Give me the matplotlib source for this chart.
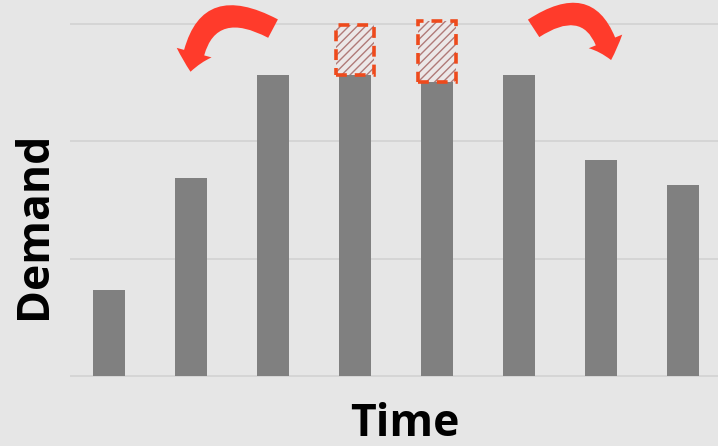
import matplotlib
matplotlib.use("Agg")
import matplotlib.pyplot as plt
from matplotlib.patches import FancyArrowPatch

# bar heights (grid step = 1 unit)
periods = list(range(8))
demand = [0.73, 1.69, 2.57, 2.57, 2.51, 2.57, 1.84, 1.63]

# peak demand that is shaved off and moved to neighbours
shaved_idx = [3, 4]
shaved_height = [0.42, 0.52]
shaved_width = [0.46, 0.47]

bg = "#e6e6e6"
bar_color = "#808080"
red = "#ff3b2b"

fig = plt.figure(figsize=(7.18, 4.46), dpi=100, facecolor=bg)
W, H = 718, 446
ax = fig.add_axes([70 / W, (H - 390) / H, (718 - 70) / W, 390 / H])
ax.set_facecolor(bg)

ax.bar(periods, demand, width=0.4, color=bar_color, zorder=2)

# hatched blocks on top of the peak bars
tops = [demand[i] for i in shaved_idx]
ax.bar(shaved_idx, shaved_height, bottom=tops, width=shaved_width,
       color="#ece8e8", edgecolor="#b07a78", hatch="////", linewidth=0, zorder=3)
ax.bar(shaved_idx, shaved_height, bottom=tops, width=shaved_width,
       fill=False, edgecolor="#ee4a1c", linewidth=2.6, linestyle=(0, (3, 2.2)), zorder=4)

# curved arrows
for tail, tip, rad in [((2.03, 2.95), (0.99, 2.57), 0.75),
                       ((5.15, 2.95), (6.13, 2.67), -0.75)]:
    arr = FancyArrowPatch(tail, tip, connectionstyle=f"arc3,rad={rad}",
                          arrowstyle="simple,head_length=14,head_width=26,tail_width=15",
                          color=red, linewidth=0, zorder=5)
    ax.add_patch(arr)

ax.set_xlim(-0.476, 7.427)
ax.set_ylim(-0.119, 3.205)
ax.set_yticks([0, 1, 2, 3])
ax.grid(axis="y", color="#d2d2d2", linewidth=1.2, zorder=0)
ax.tick_params(left=False, bottom=False, labelleft=False, labelbottom=False)
for s in ax.spines.values():
    s.set_visible(False)

fig.text(35 / W, 1 - 225 / H, "Demand", rotation=90, ha="center", va="center",
         fontsize=32, fontweight="bold", family="Open Sans")
fig.text(405 / W, 1 - 424 / H, "Time", ha="center", va="center",
         fontsize=32, fontweight="bold", family="Open Sans")

fig.savefig("out.png", dpi=100, facecolor=bg)
